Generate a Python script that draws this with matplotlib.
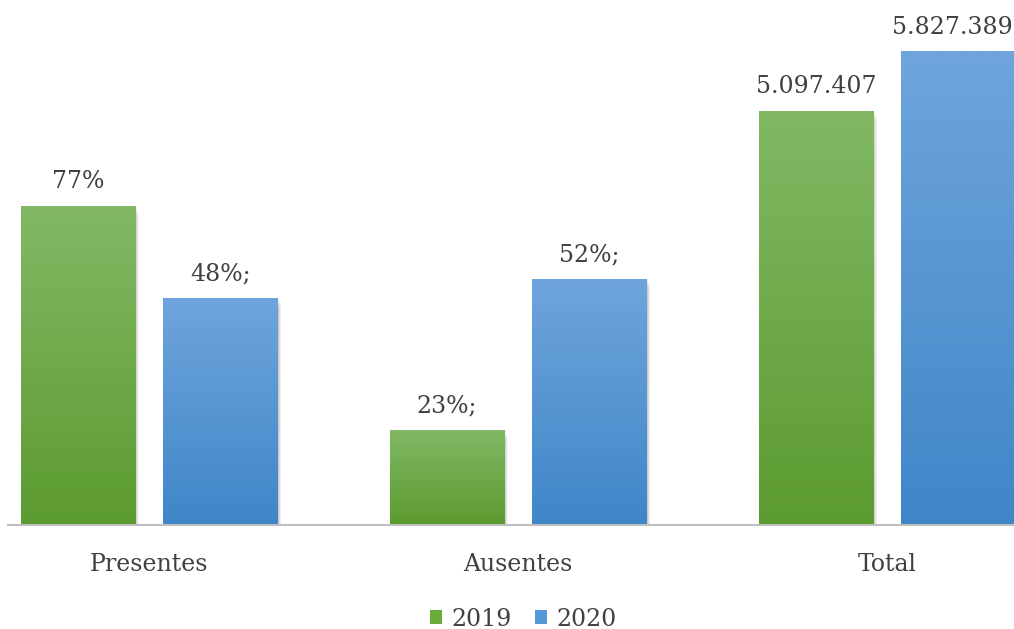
import numpy as np
import matplotlib
matplotlib.use("Agg")
from matplotlib import pyplot as plt
from matplotlib.colors import LinearSegmentedColormap
from matplotlib.patches import Rectangle

categories = ["Presentes", "Ausentes", "Total"]
years = ["2019", "2020"]
totals = [5097407, 5827389]
pct_2019 = [0.77, 0.23]
pct_2020 = [0.48, 0.52]
labels_2019 = ["77%", "23%;", "5.097.407"]
labels_2020 = ["48%;", "52%;", "5.827.389"]

values_2019 = [p * totals[0] for p in pct_2019] + [totals[0]]
values_2020 = [p * totals[1] for p in pct_2020] + [totals[1]]

plt.rcParams['font.family'] = ['DejaVu Serif']
text_color = '#404040'

fig = plt.figure(figsize=(10.14, 6.29), dpi=100)
ax = fig.add_axes([8 / 1014, 104 / 629, 1 - 8 / 1014, 525 / 629])

width = 0.309
offset = 0.193
xmax = 2.344
grads = {
    "2019": LinearSegmentedColormap.from_list("g", ["#5c9b30", "#82b865"]),
    "2020": LinearSegmentedColormap.from_list("b", ["#3f86c8", "#6fa5dc"]),
}
swatch = {"2019": "#6aab3c", "2020": "#5599d8"}

grad = np.linspace(0, 1, 256).reshape(-1, 1)
x = np.arange(len(categories))
for year, vals, labs, sign in [("2019", values_2019, labels_2019, -1),
                                ("2020", values_2020, labels_2020, 1)]:
    for xi, v, lab in zip(x, vals, labs):
        x0 = xi + sign * offset - width / 2
        # soft shadow
        for k in range(6):
            sh = Rectangle((x0 + 0.004 + k * 0.0015, 0), width, v - 20000 * k,
                           facecolor='black', alpha=0.035, edgecolor='none', zorder=1)
            ax.add_patch(sh)
        rect = Rectangle((x0, 0), width, v, facecolor='none', edgecolor='none', zorder=2)
        ax.add_patch(rect)
        im = ax.imshow(grad, cmap=grads[year], origin='lower', aspect='auto',
                       extent=(x0, x0 + width, 0, v), zorder=2)
        im.set_clip_path(rect)
        # last label sits at the figure edge: keep it inside
        if x0 + width >= xmax - 0.01:
            tx, ha = xmax - 0.004, 'right'
        else:
            tx, ha = xi + sign * offset, 'center'
        ax.text(tx, v + 0.024 * 6.46e6, lab, ha=ha, va='bottom',
                fontsize=17, color=text_color, clip_on=False)

ax.set_xlim(-0.382, xmax)
ax.set_ylim(0, 6.46e6)

for s in ['top', 'right', 'left']:
    ax.spines[s].set_visible(False)
ax.spines['bottom'].set_color('#bfbfbf')
ax.spines['bottom'].set_linewidth(1.5)
ax.set_yticks([])
ax.set_xticks(x)
ax.set_xticklabels(categories, fontsize=17, color=text_color)
ax.tick_params(axis='x', length=0, pad=20)

handles = [Rectangle((0, 0), 1, 1, facecolor=swatch[y], edgecolor='none') for y in years]
fig.legend(handles, years, loc='center', bbox_to_anchor=(0.516, 1 - 619 / 629), ncol=2,
           frameon=False, fontsize=17, labelcolor=text_color, handlelength=0.5,
           handleheight=0.5, handletextpad=0.4, columnspacing=1.0)

fig.savefig("out.png", dpi=100)
